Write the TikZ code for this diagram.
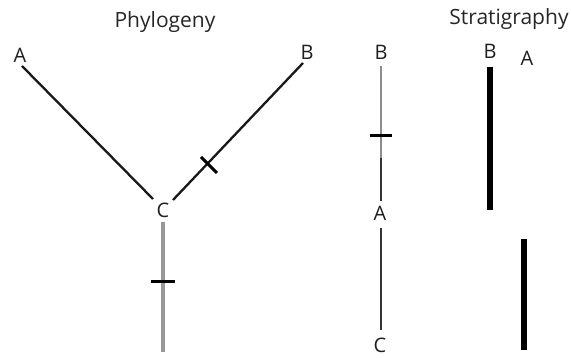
\documentclass[tikz,border=0pt]{standalone}
\usepackage{fontspec}
\setmainfont{Open Sans}
\begin{document}
\begin{tikzpicture}[x=1pt,y=-1pt,
  lbl/.style={font=\fontsize{20}{23}\selectfont, inner sep=0pt, text=black!88},
  ttl/.style={font=\fontsize{21}{24}\selectfont, inner sep=0pt, text=black!85},
  branch/.style={line width=2.3pt, black!90},
  greyline/.style={line width=3.4pt, black!40},
  thinline/.style={line width=1.4pt, black!80},
  thick/.style={line width=5.4pt, black},
  tick/.style={line width=3pt, black}]
\useasboundingbox (0,0) rectangle (571,358);
\node[ttl] (tp) at (165,22) {Phylogeny};
\node[ttl] (ts) at (509,19) {Stratigraphy};
% phylogeny
\node[lbl] (pa) at (20,55) {A};
\node[lbl] (pb) at (307,52) {B};
\node[lbl] (pc) at (163,210) {C};
\coordinate (pa1) at (22,66);
\coordinate (pac) at (153,199);
\coordinate (pb1) at (303,63);
\coordinate (pbc) at (173,200);
\coordinate (pc1) at (163,222);
\coordinate (pc2) at (163,352);
\draw[branch] (pa1) -- (pac);
\draw[branch] (pb1) -- (pbc);
\draw[greyline] (pc1) -- (pc2);
\coordinate (t1a) at (201,157);
\coordinate (t1b) at (217,173);
\draw[tick] (t1a) -- (t1b);
\coordinate (t2a) at (151,282);
\coordinate (t2b) at (175,282);
\draw[tick] (t2a) -- (t2b);
% stratigraphy left column
\node[lbl] (sb) at (381,52) {B};
\node[lbl] (sa) at (380,213) {A};
\node[lbl] (sc) at (380,345) {C};
\coordinate (s1) at (381,66);
\coordinate (s2) at (381,158);
\coordinate (s3) at (381,201);
\coordinate (s4) at (381,228);
\coordinate (s5) at (381,330);
\draw[line width=2.2pt, black!45] (s1) -- (s2);
\draw[thinline] (s2) -- (s3);
\draw[thinline] (s4) -- (s5);
\coordinate (t3a) at (370,136);
\coordinate (t3b) at (392,136);
\draw[tick] (t3a) -- (t3b);
% stratigraphy ranges
\node[lbl] (rb) at (490,51) {B};
\node[lbl] (ra) at (527,58) {A};
\coordinate (rb1) at (490,67);
\coordinate (rb2) at (490,210);
\coordinate (ra1) at (524,239);
\coordinate (ra2) at (524,350);
\draw[thick] (rb1) -- (rb2);
\draw[thick] (ra1) -- (ra2);
\end{tikzpicture}
\end{document}
